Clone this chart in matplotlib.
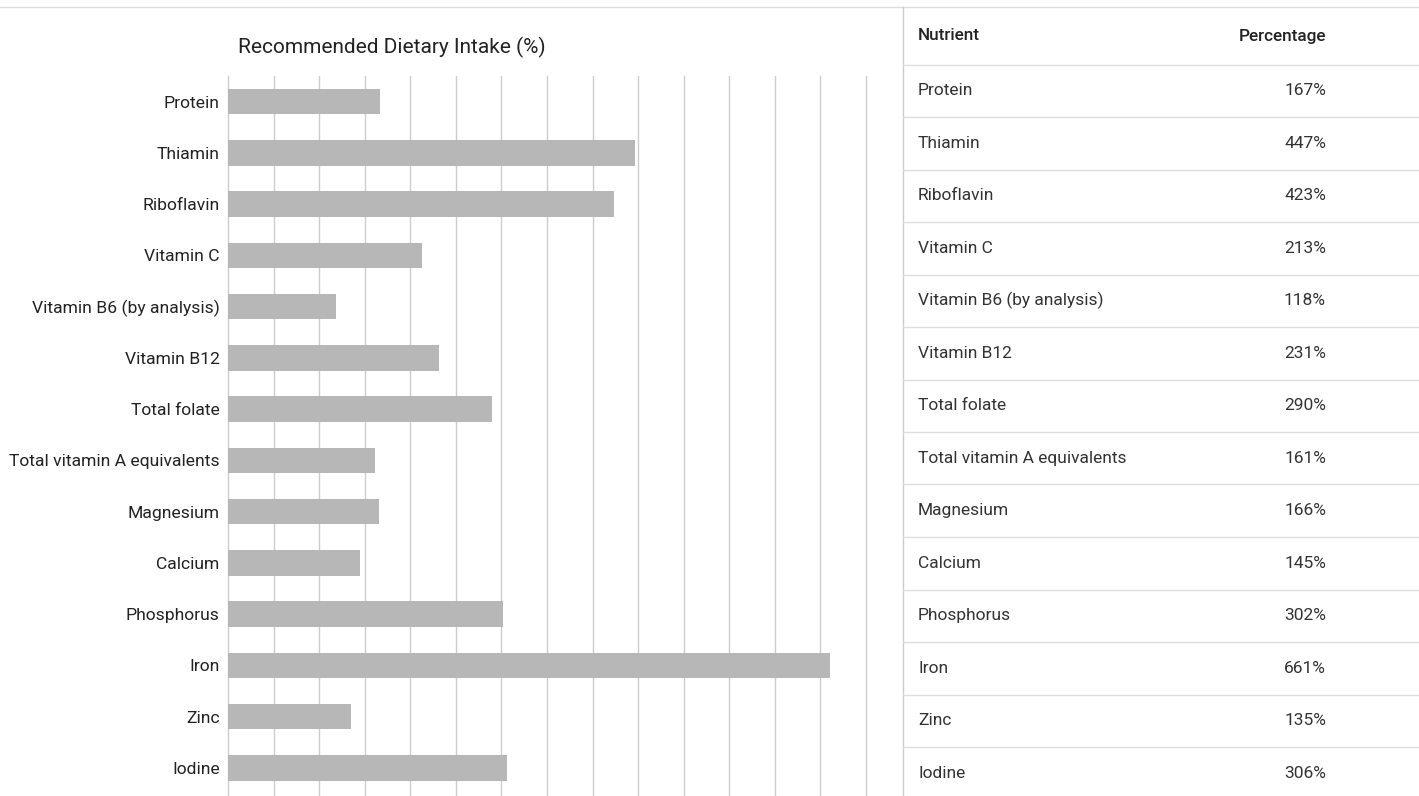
import matplotlib
matplotlib.use("Agg")
import matplotlib.pyplot as plt
from matplotlib.lines import Line2D

nutrients = ["Protein", "Thiamin", "Riboflavin", "Vitamin C", "Vitamin B6 (by analysis)",
             "Vitamin B12", "Total folate", "Total vitamin A equivalents", "Magnesium",
             "Calcium", "Phosphorus", "Iron", "Zinc", "Iodine"]
percent = [167, 447, 423, 213, 118, 231, 290, 161, 166, 145, 302, 661, 135, 306]
title = "Recommended Dietary Intake (%)"
col_headers = ["Nutrient", "Percentage"]

W, H = 1419, 796
plt.rcParams['font.family'] = ['Roboto', 'DejaVu Sans']
fig = plt.figure(figsize=(W / 100, H / 100), dpi=100)

def fx(px):
    return px / W

def fy(py):
    return 1 - py / H

# bar chart axes: x 228..866 px, y 74..796 px
ax_l, ax_r, ax_t, ax_b = 228, 866, 76, 796
ax = fig.add_axes([fx(ax_l), fy(ax_b), fx(ax_r - ax_l), (ax_b - ax_t) / H])
n = len(nutrients)
ypos = list(range(n))
ax.barh(ypos, percent, height=0.5, color="#b7b7b7", zorder=2)
ax.set_xlim(0, 700)
ax.set_ylim(n - 0.45, -0.5)
ax.set_xticks(range(0, 701, 50))
ax.set_xticklabels([])
ax.tick_params(axis='x', length=0)
ax.tick_params(axis='y', length=0, pad=6, labelsize=12.6, labelcolor="#222222")
ax.set_yticks(ypos)
ax.set_yticklabels(nutrients)
ax.grid(axis='x', color="#cccccc", linewidth=1, zorder=0)
for gl in ax.get_xgridlines():
    gl.set_clip_on(False)
for s in ax.spines.values():
    s.set_visible(False)
ax.set_facecolor("none")

fig.text(fx(392), fy(47), title, ha='center', va='center', fontsize=15, color="#222222")

# top rule and separator
fig.add_artist(Line2D([0, 1], [fy(7), fy(7)], color="#dddddd", linewidth=1))
fig.add_artist(Line2D([fx(903), fx(903)], [fy(7), 0], color="#cccccc", linewidth=1))

# table
fs = 12.5
fig.text(fx(918), fy(36), col_headers[0], ha='left', va='center', fontsize=fs - 0.2,
         color="#222222", fontweight='medium')
fig.text(fx(1326), fy(36), col_headers[1], ha='right', va='center', fontsize=fs - 0.2,
         color="#222222", fontweight='medium')
row_top = 64.5
row_h = 52.5
for i, (name, val) in enumerate(zip(nutrients, percent)):
    yl = row_top + i * row_h
    fig.add_artist(Line2D([fx(903), 1], [fy(yl), fy(yl)], color="#dddddd", linewidth=1))
    yc = yl + row_h / 2
    fig.text(fx(918), fy(yc), name, ha='left', va='center', fontsize=fs, color="#333333")
    fig.text(fx(1326), fy(yc), f"{val}%", ha='right', va='center', fontsize=fs, color="#333333")

fig.savefig("out.png", dpi=100, facecolor="white")
